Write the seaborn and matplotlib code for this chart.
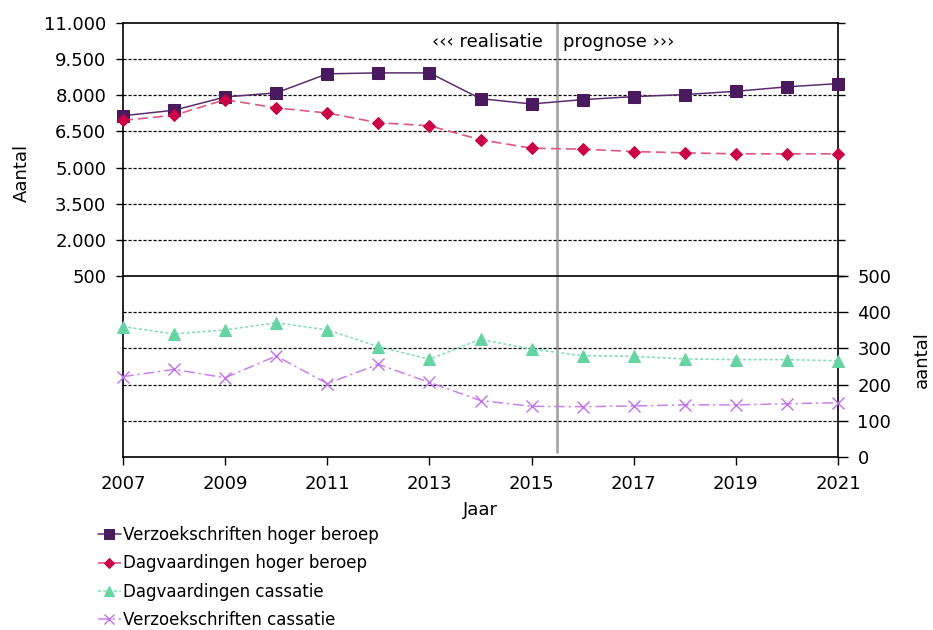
import numpy as np
import pandas as pd
import matplotlib
matplotlib.use("Agg")
import matplotlib.pyplot as plt
from matplotlib.ticker import FuncFormatter, FixedLocator
from matplotlib.legend_handler import HandlerLine2D
import seaborn as sns

years = list(range(2007, 2022))

verzoek_hb = [7150, 7380, 7930, 8100, 8890, 8930, 8930, 7860, 7640, 7820, 7945, 8030, 8165, 8350, 8485]
dagv_hb = [6960, 7170, 7820, 7475, 7265, 6860, 6735, 6155, 5805, 5765, 5665, 5610, 5570, 5570, 5570]
dagv_cass = [360, 340, 351, 371, 351, 305, 270, 325, 298, 280, 278, 271, 269, 269, 266]
verzoek_cass = [222, 242, 219, 279, 203, 256, 206, 156, 140, 139, 141, 144, 144, 147, 150]

labels = ["Verzoekschriften hoger beroep", "Dagvaardingen hoger beroep",
          "Dagvaardingen cassatie", "Verzoekschriften cassatie"]

top_ticks = [500, 2000, 3500, 5000, 6500, 8000, 9500, 11000]
bottom_ticks = [0, 100, 200, 300, 400, 500]
year_ticks = [2007, 2009, 2011, 2013, 2015, 2017, 2019, 2021]
split_year = 2015.5

sns.set_style("white")
plt.rcParams["font.family"] = ["DejaVu Sans"]
plt.rcParams["text.color"] = "black"
plt.rcParams["axes.labelcolor"] = "black"


class MarkerFirstHandler(HandlerLine2D):
    """Legend entry with the marker at the left end of the line sample."""
    def get_xdata(self, legend, xdescent, ydescent, width, height, fontsize):
        xdata = np.array([-xdescent, -xdescent + width])
        return xdata, np.array([-xdescent + 3])


W, H = 933, 630
fig = plt.figure(figsize=(W / 100, H / 100), dpi=100)

L, R = 123, 838
T, M, B = 23, 276, 457
ax_top = fig.add_axes([L / W, 1 - M / H, (R - L) / W, (M - T) / H])
ax_bot = fig.add_axes([L / W, 1 - B / H, (R - L) / W, (B - M) / H])

df = pd.DataFrame({"Jaar": years, labels[0]: verzoek_hb, labels[1]: dagv_hb,
                   labels[2]: dagv_cass, labels[3]: verzoek_cass})

styles = {
    labels[0]: dict(color="#5b2d6e", marker="s", markersize=8, markerfacecolor="#4a1a5e",
                    markeredgecolor="#4a1a5e", linestyle="-", linewidth=1.1),
    labels[1]: dict(color="#e0577f", marker="D", markersize=6, markerfacecolor="#cc0044",
                    markeredgecolor="#cc0044", linestyle=(0, (6, 3)), linewidth=1.2),
    labels[2]: dict(color="#7dddb5", marker="^", markersize=8, markerfacecolor="#66d4a2",
                    markeredgecolor="#66d4a2", linestyle=(0, (2, 1.5)), linewidth=1.1),
    labels[3]: dict(color="#cc80ee", marker="x", markersize=8, markerfacecolor="#c070e8",
                    markeredgecolor="#c070e8", markeredgewidth=1.0,
                    linestyle=(0, (7, 2.5, 1.5, 2.5)), linewidth=1.1),
}

for name, ax in [(labels[0], ax_top), (labels[1], ax_top), (labels[2], ax_bot), (labels[3], ax_bot)]:
    sns.lineplot(data=df, x="Jaar", y=name, ax=ax, clip_on=False, zorder=5,
                 label=name, legend=False, **styles[name])

fmt = FuncFormatter(lambda v, p: f"{v:,.0f}".replace(",", "."))

for ax in (ax_top, ax_bot):
    ax.set_xlim(2007, 2021)
    ax.set_xlabel("")
    ax.set_ylabel("")
    for s in ax.spines.values():
        s.set_color("black")
        s.set_linewidth(1.2)
    ax.axvline(split_year, color="#a6a6a6", linewidth=2, zorder=1,
               ymin=(0.03 if ax is ax_bot else 0), ymax=1)

# upper panel: hoger beroep
ax_top.set_ylim(500, 11000)
ax_top.yaxis.set_major_locator(FixedLocator(top_ticks))
ax_top.yaxis.set_major_formatter(fmt)
ax_top.tick_params(axis="y", which="major", left=True, right=True, labelleft=True,
                   direction="out", length=5, width=1, labelsize=13, pad=7,
                   colors="black")
ax_top.tick_params(axis="x", bottom=False, labelbottom=False)
for v in top_ticks[1:-1]:
    ax_top.axhline(v, color="black", linewidth=0.9, linestyle=(0, (2.5, 1.5)), zorder=2)
ax_top.spines["bottom"].set_visible(False)

ax_top.text(split_year - 0.27, 10200, "‹‹‹ realisatie", ha="right", va="center", fontsize=13)
ax_top.text(split_year + 0.12, 10200, "prognose ›››", ha="left", va="center", fontsize=13)

# lower panel: cassatie
ax_bot.set_ylim(0, 500)
ax_bot.yaxis.set_major_locator(FixedLocator(bottom_ticks))
ax_bot.yaxis.tick_right()
ax_bot.tick_params(axis="y", left=False, right=True, labelright=True, labelleft=False,
                   direction="out", length=7, width=1, labelsize=13, pad=7, colors="black")
ax_bot.xaxis.set_major_locator(FixedLocator(year_ticks))
ax_bot.xaxis.set_major_formatter(FuncFormatter(lambda v, p: f"{int(v)}"))
ax_bot.tick_params(axis="x", bottom=True, direction="out", length=6, width=1,
                   labelsize=13, pad=7, colors="black")
for v in bottom_ticks[1:-1]:
    ax_bot.axhline(v, color="black", linewidth=0.9, linestyle=(0, (2.5, 1.5)), zorder=2)

fig.text(22 / W, 1 - 173 / H, "Aantal", rotation=90, ha="center", va="center", fontsize=13)
fig.text(922 / W, 1 - 360 / H, "aantal", rotation=90, ha="center", va="center", fontsize=13)
fig.text(480 / W, 1 - 510 / H, "Jaar", ha="center", va="center", fontsize=13)

handles = []
for ax in (ax_top, ax_bot):
    handles += ax.get_lines()
handles = [h for h in handles if h.get_label() in labels]
fig.legend(handles, [h.get_label() for h in handles], loc="upper left",
           bbox_to_anchor=(98 / W, 1 - 526 / H), frameon=False, fontsize=12,
           handlelength=1.35, handletextpad=0.15, labelspacing=0.62,
           borderaxespad=0, borderpad=0, markerscale=0.9,
           handler_map={h: MarkerFirstHandler() for h in handles})

fig.savefig("out.png", dpi=100)
